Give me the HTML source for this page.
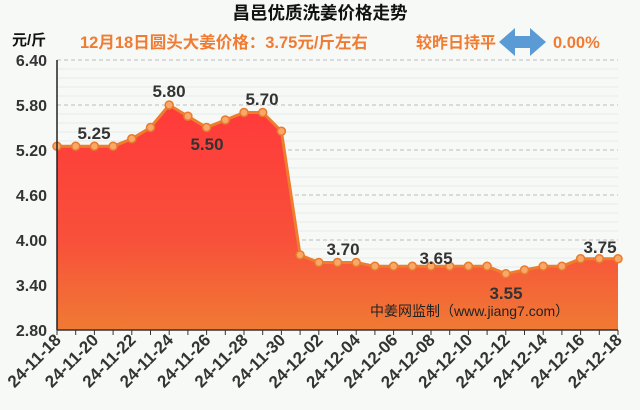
<!DOCTYPE html>
<html><head><meta charset="utf-8"><style>
body{margin:0;background:#f7f9f7;}
svg{display:block;font-family:"Liberation Sans","Noto Sans CJK SC",sans-serif;}
</style></head><body>
<svg id="s" width="640" height="410" viewBox="0 0 640 410">
<defs>
<linearGradient id="g" x1="0" y1="0" x2="0" y2="1">
<stop offset="0" stop-color="#ff3a3a"/><stop offset="0.6" stop-color="#f8503a"/><stop offset="1" stop-color="#f07a34"/>
</linearGradient>
</defs>
<rect width="640" height="410" fill="#f7f9f7"/>
<g id="grid"></g>
<path id="area" fill="url(#g)"/>
<polyline id="line" fill="none" stroke="#ee7d2e" stroke-width="3" stroke-linejoin="round"/>
<g id="pts"></g>
<line x1="57" y1="60" x2="57" y2="330" stroke="#222" stroke-width="1.5"/>
<line x1="57" y1="330" x2="618" y2="330" stroke="#333" stroke-width="1.5"/>
<g id="ticks"></g>
<text x="320" y="19" text-anchor="middle" font-size="17.5" font-weight="bold" fill="#111">昌邑优质洗姜价格走势</text>
<text x="12" y="45" font-size="15" font-weight="bold" fill="#111">元/斤</text>
<text x="80" y="48" font-size="16.5" font-weight="bold" fill="#f07b32">12月18日圆头大姜价格：3.75元/斤左右</text>
<text x="416" y="48" font-size="16" font-weight="bold" fill="#f07b32">较昨日持平</text>
<polygon points="499,42 515,28 515,36 530,36 530,28 546,42 530,56 530,48 515,48 515,56" fill="#5b9bd5"/>
<text x="553" y="48" font-size="16.5" font-weight="bold" fill="#f07b32">0.00%</text>
<g font-size="16" font-weight="bold" fill="#333" text-anchor="end">
<text x="47" y="66">6.40</text><text x="47" y="111">5.80</text><text x="47" y="156">5.20</text><text x="47" y="201">4.60</text><text x="47" y="246">4.00</text><text x="47" y="291">3.40</text><text x="47" y="336">2.80</text>
</g>
<g font-size="17" font-weight="bold" fill="#333" text-anchor="middle">
<text x="94" y="139">5.25</text><text x="169" y="97">5.80</text><text x="207" y="150">5.50</text><text x="262" y="105">5.70</text><text x="343" y="255">3.70</text><text x="436" y="264">3.65</text><text x="506" y="299">3.55</text><text x="600" y="253">3.75</text>
</g>
<text x="370" y="316" font-size="14" fill="#222">中姜网监制（www.jiang7.com）</text>
<g id="xl" font-size="17" font-weight="bold" fill="#333" text-anchor="end">
<text>24-11-18</text><text>24-11-20</text><text>24-11-22</text><text>24-11-24</text><text>24-11-26</text><text>24-11-28</text><text>24-11-30</text><text>24-12-02</text><text>24-12-04</text><text>24-12-06</text><text>24-12-08</text><text>24-12-10</text><text>24-12-12</text><text>24-12-14</text><text>24-12-16</text><text>24-12-18</text>
</g>
</svg>
<script>
var v=[5.25,5.25,5.25,5.25,5.35,5.50,5.80,5.65,5.50,5.60,5.70,5.70,5.45,3.80,3.70,3.70,3.70,3.65,3.65,3.65,3.65,3.65,3.65,3.65,3.55,3.60,3.65,3.65,3.75,3.75,3.75];
var ns="http://www.w3.org/2000/svg";
function X(i){return 57+18.7*i}function Y(a){return 60+(6.4-a)*75}
function el(t,o,p){var e=document.createElementNS(ns,t);for(var k in o)e.setAttribute(k,o[k]);document.getElementById(p).appendChild(e);return e}
for(var y=60;y<330;y+=9){var maj=((y-60)%45==0);el('line',{x1:57,x2:618,y1:y,y2:y,stroke:maj?'#bbb':'#e6ebe8','stroke-width':1,'stroke-dasharray':maj?'4,3':''},'grid');}
var pts=v.map(function(a,i){return X(i).toFixed(1)+','+Y(a).toFixed(1)});
document.getElementById('line').setAttribute('points',pts.join(' '));
document.getElementById('area').setAttribute('d','M57,330 L'+pts.join(' L')+' L618,330 Z');
v.forEach(function(a,i){el('circle',{cx:X(i),cy:Y(a),r:4,fill:'#f8a868',stroke:'#ea7a2c','stroke-width':1.5},'pts');
el('line',{x1:X(i),x2:X(i),y1:330,y2:335,stroke:'#333'},'ticks');});
var t=document.getElementById('xl').children;
for(var j=0;j<t.length;j++){var x=X(2*j)+5,y=341;t[j].setAttribute('x',x);t[j].setAttribute('y',y);t[j].setAttribute('transform','rotate(-45 '+x+' '+y+')');}
</script>
</body></html>
